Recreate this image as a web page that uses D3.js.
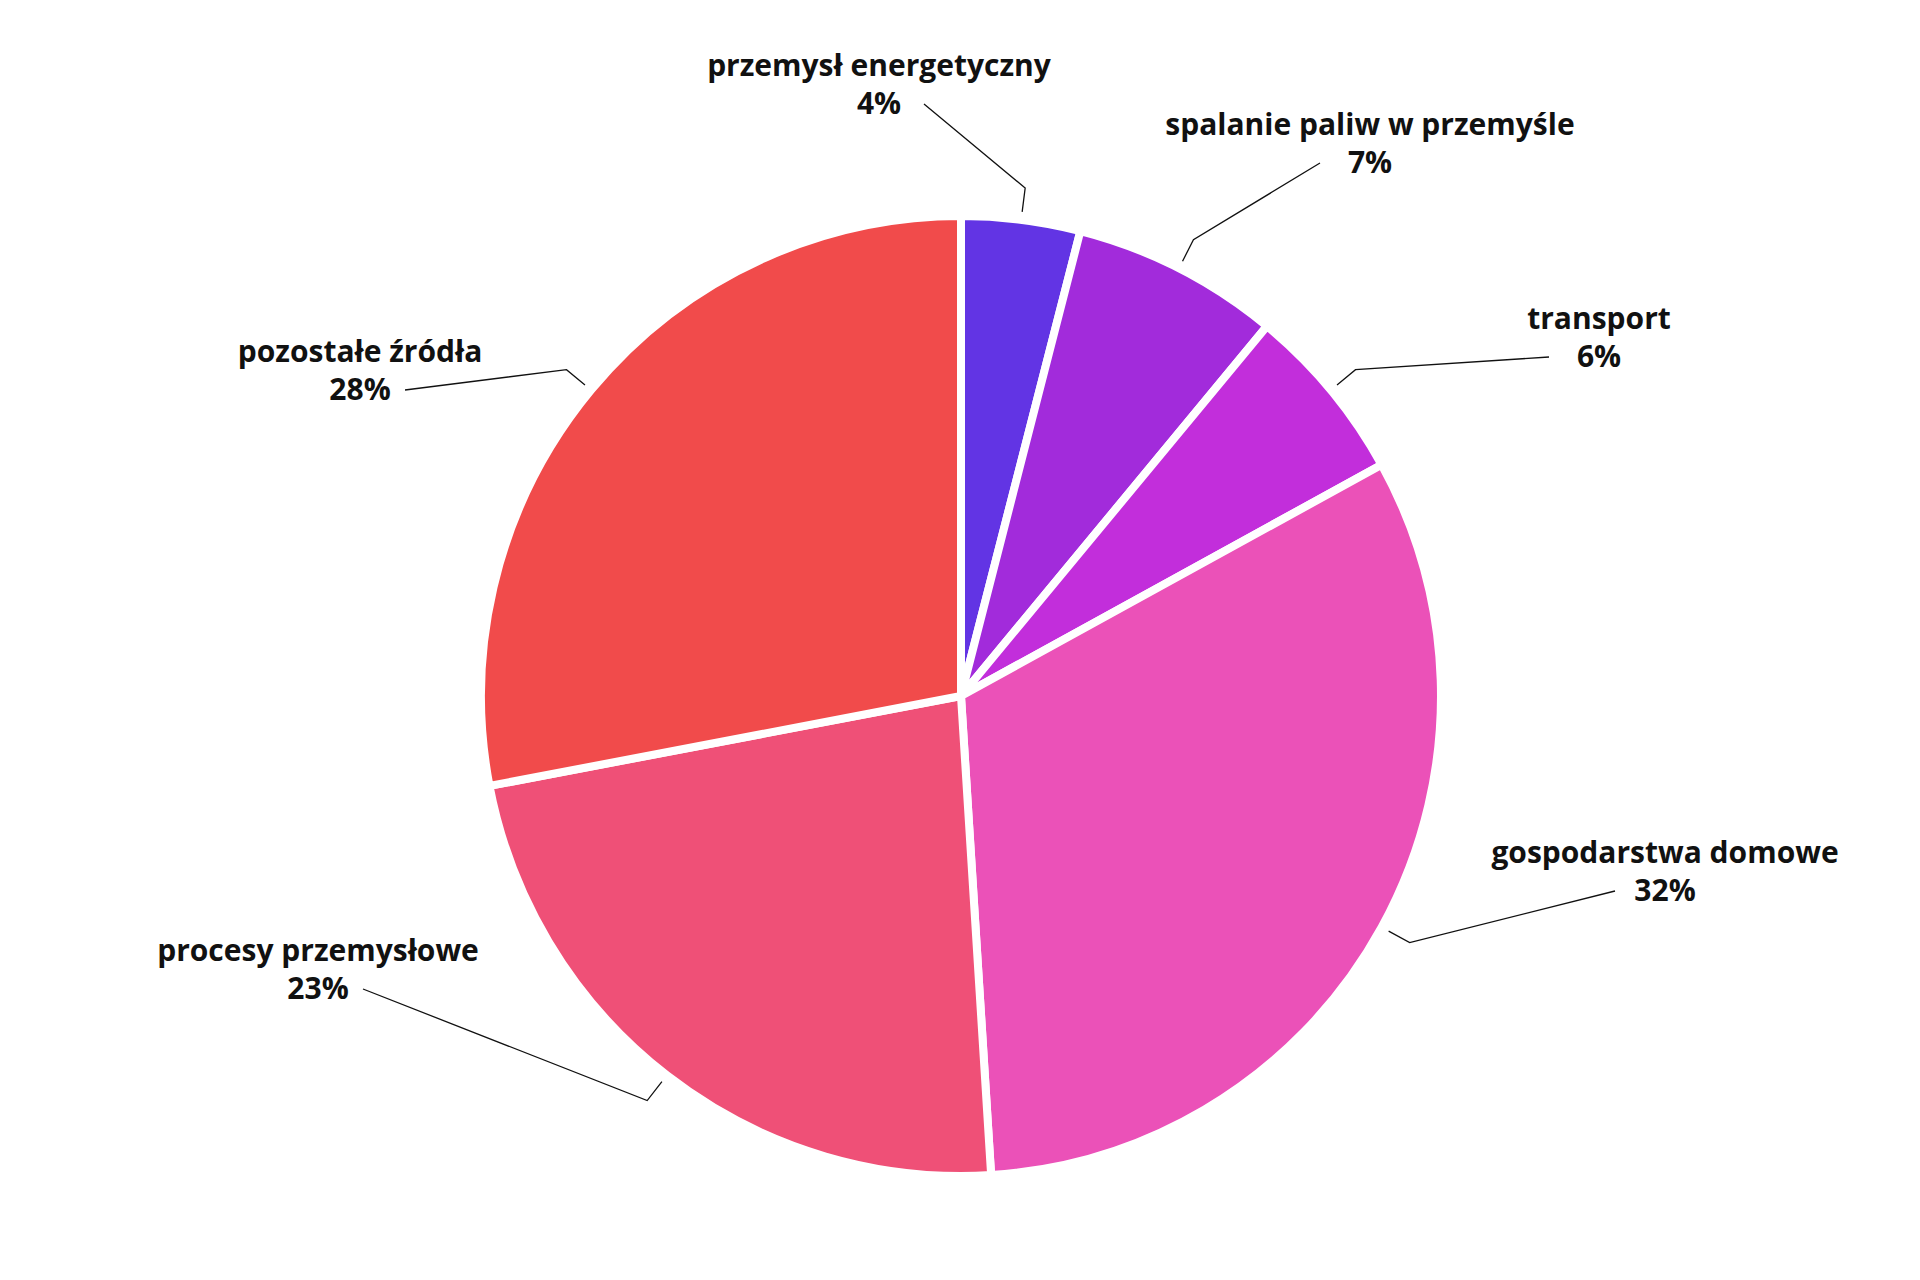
<!DOCTYPE html>
<html>
<head>
<meta charset="utf-8">
<script src="https://cdn.jsdelivr.net/npm/d3@7"></script>
<style>
  body { margin: 0; background: #fff; }
  text { font-family: "Open Sans", sans-serif; font-weight: 700; fill: #111; }
</style>
</head>
<body>
<div id="pie-chart"></div>
<script>
// chart data
const categories = ["przemysł energetyczny", "spalanie paliw w przemyśle", "transport",
                    "gospodarstwa domowe", "procesy przemysłowe", "pozostałe źródła"];
const values = [4, 7, 6, 32, 23, 28];
const colors = ["#6234E4", "#A22BDB", "#C22EDB", "#EB51B8", "#EF5077", "#F14B4B"];
// label anchor (text centre, first line baseline) per slice
const labelPos = [[879, 76], [1370, 135], [1599, 329], [1665, 863], [318, 961], [360, 362]];

const width = 1920, height = 1280;
const cx = 961, cy = 696, radius = 480;

const svg = d3.select("#pie-chart").append("svg")
    .attr("width", width).attr("height", height);
const g = svg.append("g").attr("transform", `translate(${cx},${cy})`);

const pie = d3.pie().sort(null).value(d => d);
const arcs = pie(values);
const arcGen = d3.arc().innerRadius(0).outerRadius(radius);

g.selectAll("path")
  .data(arcs)
  .enter().append("path")
    .attr("d", arcGen)
    .attr("fill", (d, i) => colors[i])
    .attr("stroke", "#fff")
    .attr("stroke-width", 8)
    .attr("stroke-linejoin", "round");

// leader lines: from just outside the slice, to an elbow, to the label
function polar(a, r) { return [Math.sin(a) * r, -Math.cos(a) * r]; }
arcs.forEach((d, i) => {
  const mid = (d.startAngle + d.endAngle) / 2;
  const p0 = polar(mid, radius + 8);
  const p1 = polar(mid, radius + 32);
  const [lx, ly] = labelPos[i];
  const right = lx - cx > 0;
  const p2 = [lx - cx + (right ? -50 : 45), ly - cy + 28];
  g.append("path")
    .attr("d", d3.line()([p0, p1, p2]))
    .attr("fill", "none")
    .attr("stroke", "#111")
    .attr("stroke-width", 1.3);
});

// labels
categories.forEach((c, i) => {
  const t = svg.append("text")
    .attr("x", labelPos[i][0]).attr("y", labelPos[i][1])
    .attr("text-anchor", "middle")
    .style("font-size", "30px");
  t.append("tspan").attr("x", labelPos[i][0]).text(c);
  t.append("tspan").attr("x", labelPos[i][0]).attr("dy", 38).text(values[i] + "%");
});
</script>
</body>
</html>
